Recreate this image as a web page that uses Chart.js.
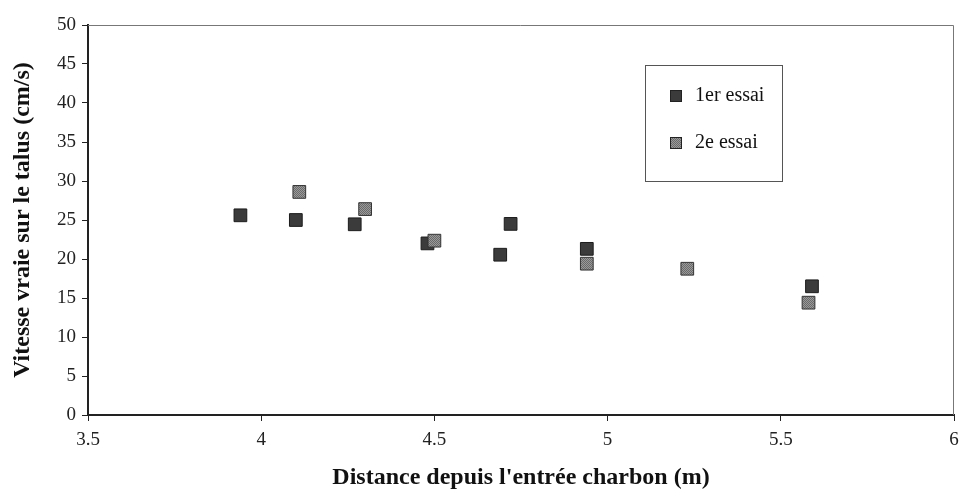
<!DOCTYPE html>
<html>
<head>
<meta charset="utf-8">
<script src="https://cdn.jsdelivr.net/npm/chart.js@4"></script>
<style>
  html, body { margin: 0; padding: 0; background: #fff; }
  #wrap { width: 964px; height: 493px; }
</style>
</head>
<body>
<div id="wrap"><canvas id="chart" width="964" height="493"></canvas></div>
<script>
// données
const essai1X = [3.94, 4.10, 4.27, 4.48, 4.69, 4.72, 4.94, 5.59];
const essai1Y = [25.6, 25.0, 24.45, 22.0, 20.55, 24.5, 21.3, 16.5];
const essai2X = [4.11, 4.30, 4.50, 4.94, 5.23, 5.58];
const essai2Y = [28.6, 26.4, 22.35, 19.4, 18.75, 14.4];
const xTicks = [3.5, 4, 4.5, 5, 5.5, 6];
const yTicks = [0, 5, 10, 15, 20, 25, 30, 35, 40, 45, 50];
const legendLabels = ["1er essai", "2e essai"];

const serif = "'Liberation Serif', 'DejaVu Serif', serif";

function points(xs, ys) {
  return xs.map((x, i) => ({ x: x, y: ys[i] }));
}

// petit motif tramé pour le 2e essai
function trame() {
  const c = document.createElement("canvas");
  c.width = 2; c.height = 2;
  const g = c.getContext("2d");
  g.fillStyle = "#9a9a9a"; g.fillRect(0, 0, 2, 2);
  g.fillStyle = "#6a6a6a"; g.fillRect(0, 0, 1, 1); g.fillRect(1, 1, 1, 1);
  return g.createPattern(c, "repeat");
}

const couleur1 = "#3b3b3b";
const couleur2 = trame();

// cadre haut/droite + légende dessinée dans la zone du graphique
const cadreLegende = {
  id: "cadreLegende",
  afterDraw(chart) {
    const ctx = chart.ctx;
    const a = chart.chartArea;
    ctx.save();
    ctx.strokeStyle = "#777";
    ctx.lineWidth = 1;
    ctx.beginPath();
    ctx.moveTo(a.left, a.top + 0.5);
    ctx.lineTo(a.right - 0.5, a.top + 0.5);
    ctx.lineTo(a.right - 0.5, a.bottom);
    ctx.stroke();

    // boîte de légende
    ctx.strokeStyle = "#555";
    ctx.strokeRect(645.5, 65.5, 137, 116);
    const fills = [couleur1, couleur2];
    const ys = [96, 143];
    ctx.font = "20px " + serif;
    ctx.textBaseline = "middle";
    legendLabels.forEach((lab, i) => {
      ctx.fillStyle = fills[i];
      ctx.fillRect(670, ys[i] - 6, 12, 12);
      ctx.strokeStyle = "#222";
      ctx.strokeRect(670.5, ys[i] - 5.5, 11, 11);
      ctx.fillStyle = "#111";
      ctx.fillText(lab, 695, ys[i]);
    });
    ctx.restore();
  }
};

new Chart(document.getElementById("chart"), {
  type: "scatter",
  data: {
    datasets: [
      {
        label: legendLabels[0],
        data: points(essai1X, essai1Y),
        pointStyle: "rect",
        pointRadius: 9,
        backgroundColor: couleur1,
        borderColor: "#1c1c1c",
        borderWidth: 1,
        order: 1,
      },
      {
        label: legendLabels[1],
        data: points(essai2X, essai2Y),
        pointStyle: "rect",
        pointRadius: 9,
        backgroundColor: couleur2,
        borderColor: "#333",
        borderWidth: 1,
        order: 0,
      },
    ],
  },
  options: {
    responsive: false,
    animation: false,
    layout: { padding: { top: 25, right: 0, left: 0, bottom: 0 } },
    plugins: { legend: { display: false }, tooltip: { enabled: false } },
    scales: {
      x: {
        type: "linear",
        min: 3.5,
        max: 6,
        afterBuildTicks: (s) => { s.ticks = xTicks.map((v) => ({ value: v })); },
        afterFit: (s) => { s.height = 78; s.paddingRight = 9; },
        grid: { drawOnChartArea: false, drawTicks: true, tickLength: 6, color: "#222" },
        border: { display: true, color: "#222", width: 2 },
        ticks: {
          color: "#222",
          font: { family: serif, size: 19 },
          padding: 8,
          callback: (v) => String(v),
        },
        title: {
          display: true,
          text: "Distance depuis l'entrée charbon (m)",
          color: "#111",
          font: { family: serif, size: 24, weight: "bold" },
          padding: { top: 4, bottom: 1 },
        },
      },
      y: {
        min: 0,
        max: 50,
        afterBuildTicks: (s) => { s.ticks = yTicks.map((v) => ({ value: v })); },
        afterFit: (s) => { s.width = 88; },
        grid: { drawOnChartArea: false, drawTicks: true, tickLength: 6, color: "#222" },
        border: { display: true, color: "#222", width: 2 },
        ticks: { color: "#222", font: { family: serif, size: 19 }, padding: 6 },
        title: {
          display: true,
          text: "Vitesse vraie sur le talus (cm/s)",
          color: "#111",
          font: { family: serif, size: 24, weight: "bold" },
          padding: { top: 8, bottom: 4 },
        },
      },
    },
  },
  plugins: [cadreLegende],
});
</script>
</body>
</html>
